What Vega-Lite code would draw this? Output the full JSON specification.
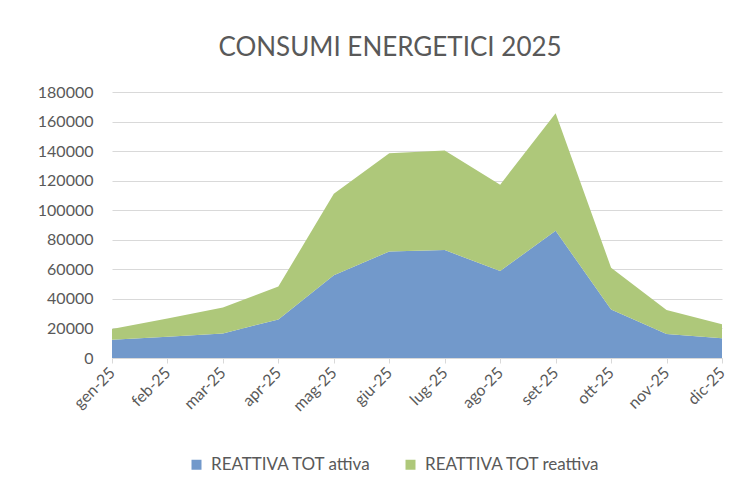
{
  "$schema": "https://vega.github.io/schema/vega-lite/v6.json",
  "width": 610,
  "height": 266,
  "autosize": {"type": "none"},
  "padding": {"left": 112, "top": 92, "right": 24, "bottom": 133},
  "background": "white",
  "title": {
    "text": "CONSUMI ENERGETICI 2025",
    "font": "Lato",
    "fontSize": 26,
    "fontWeight": "normal",
    "color": "#595959",
    "anchor": "middle",
    "dx": -27,
    "offset": 23
  },
  "data": {
    "values": [
      {"mese": "gen-25", "serie": "REATTIVA TOT attiva", "valore": 12400},
      {"mese": "feb-25", "serie": "REATTIVA TOT attiva", "valore": 14400},
      {"mese": "mar-25", "serie": "REATTIVA TOT attiva", "valore": 16600},
      {"mese": "apr-25", "serie": "REATTIVA TOT attiva", "valore": 26100},
      {"mese": "mag-25", "serie": "REATTIVA TOT attiva", "valore": 56000},
      {"mese": "giu-25", "serie": "REATTIVA TOT attiva", "valore": 72100},
      {"mese": "lug-25", "serie": "REATTIVA TOT attiva", "valore": 73000},
      {"mese": "ago-25", "serie": "REATTIVA TOT attiva", "valore": 58900},
      {"mese": "set-25", "serie": "REATTIVA TOT attiva", "valore": 86100},
      {"mese": "ott-25", "serie": "REATTIVA TOT attiva", "valore": 32800},
      {"mese": "nov-25", "serie": "REATTIVA TOT attiva", "valore": 16200},
      {"mese": "dic-25", "serie": "REATTIVA TOT attiva", "valore": 13300},
      {"mese": "gen-25", "serie": "REATTIVA TOT reattiva", "valore": 7200},
      {"mese": "feb-25", "serie": "REATTIVA TOT reattiva", "valore": 12300},
      {"mese": "mar-25", "serie": "REATTIVA TOT reattiva", "valore": 17600},
      {"mese": "apr-25", "serie": "REATTIVA TOT reattiva", "valore": 22200},
      {"mese": "mag-25", "serie": "REATTIVA TOT reattiva", "valore": 55200},
      {"mese": "giu-25", "serie": "REATTIVA TOT reattiva", "valore": 66500},
      {"mese": "lug-25", "serie": "REATTIVA TOT reattiva", "valore": 67400},
      {"mese": "ago-25", "serie": "REATTIVA TOT reattiva", "valore": 58400},
      {"mese": "set-25", "serie": "REATTIVA TOT reattiva", "valore": 79500},
      {"mese": "ott-25", "serie": "REATTIVA TOT reattiva", "valore": 28300},
      {"mese": "nov-25", "serie": "REATTIVA TOT reattiva", "valore": 16200},
      {"mese": "dic-25", "serie": "REATTIVA TOT reattiva", "valore": 9600}
    ]
  },
  "mark": {"type": "area", "opacity": 1},
  "encoding": {
    "x": {
      "field": "mese",
      "type": "ordinal",
      "sort": ["gen-25","feb-25","mar-25","apr-25","mag-25","giu-25","lug-25","ago-25","set-25","ott-25","nov-25","dic-25"],
      "scale": {"type": "point", "padding": 0},
      "axis": {
        "title": null,
        "labelAngle": -45,
        "labelAlign": "right",
        "labelBaseline": "middle",
        "labelFont": "Lato",
        "labelFontSize": 16,
        "labelColor": "#595959",
        "labelPadding": 7,
        "domainColor": "#D9D9D9",
        "tickColor": "#D9D9D9",
        "tickSize": 5,
        "grid": false
      }
    },
    "y": {
      "field": "valore",
      "type": "quantitative",
      "aggregate": "sum",
      "stack": "zero",
      "scale": {"domain": [0, 180000], "nice": false},
      "axis": {
        "title": null,
        "values": [0,20000,40000,60000,80000,100000,120000,140000,160000,180000],
        "format": "d",
        "labelFont": "Lato",
        "labelFontSize": 16,
        "labelColor": "#595959",
        "labelPadding": 19,
        "domain": false,
        "ticks": false,
        "grid": true,
        "gridColor": "#D9D9D9",
        "gridWidth": 1
      }
    },
    "color": {
      "field": "serie",
      "type": "nominal",
      "scale": {
        "domain": ["REATTIVA TOT attiva", "REATTIVA TOT reattiva"],
        "range": ["#7299CB", "#AEC87A"]
      },
      "legend": {
        "title": null,
        "orient": "none",
        "direction": "horizontal",
        "legendX": 76,
        "legendY": 364,
        "symbolType": "square",
        "symbolSize": 100,
        "symbolStrokeWidth": 0,
        "labelFont": "Lato",
        "labelFontSize": 17,
        "labelLimit": 400,
        "labelColor": "#595959",
        "labelOffset": 6,
        "columnPadding": 30
      }
    },
    "order": {"field": "serie", "type": "nominal", "sort": "ascending"}
  },
  "config": {"view": {"stroke": null}}
}
